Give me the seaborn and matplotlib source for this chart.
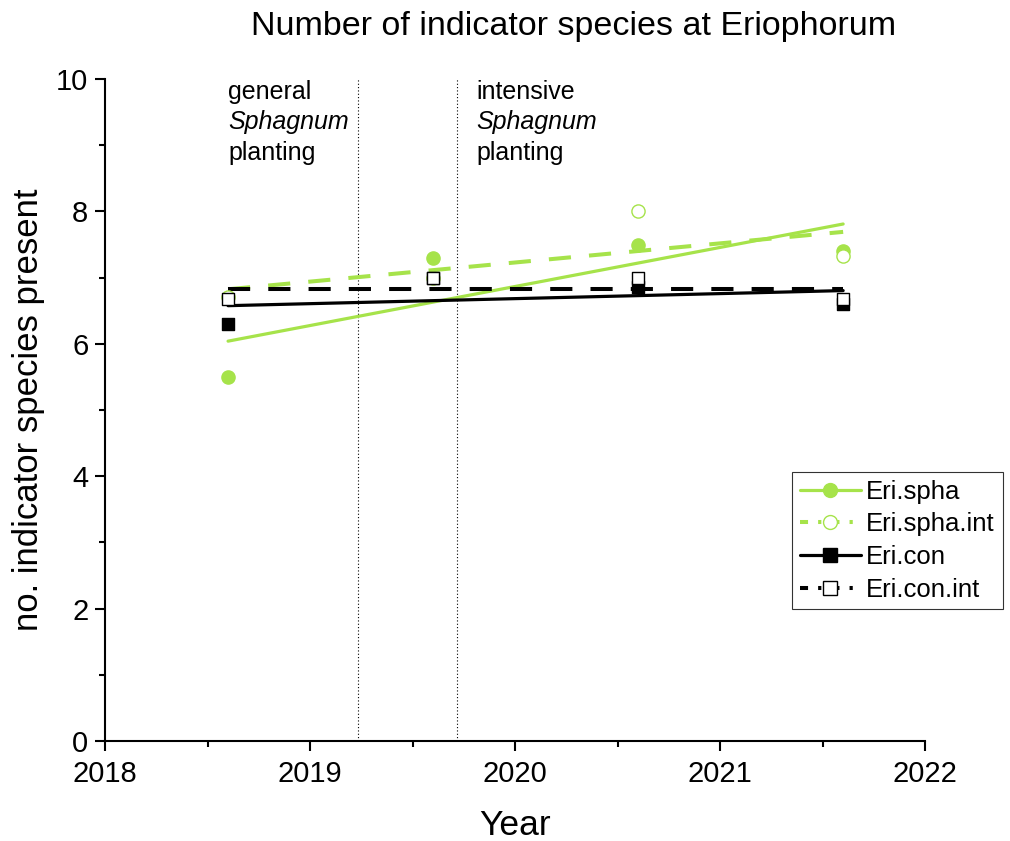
import numpy as np
import pandas as pd
import matplotlib
matplotlib.use('Agg')
import matplotlib.pyplot as plt
import seaborn as sns
from matplotlib.lines import Line2D

years = [2018.6, 2019.6, 2020.6, 2021.6]
eri_spha = [5.5, 7.3, 7.5, 7.4]
eri_spha_int = [6.7, 7.0, 8.0, 7.33]
eri_con = [6.3, 7.0, 6.86, 6.6]
eri_con_int = [6.67, 7.0, 7.0, 6.67]
phase_lines = [2019.234, 2019.717]

green = '#a6e34a'

sns.set_style('ticks')
plt.rcParams['font.family'] = ['Liberation Sans', 'DejaVu Sans']
plt.rcParams['text.color'] = 'black'
plt.rcParams['axes.labelcolor'] = 'black'
plt.rcParams['xtick.color'] = 'black'
plt.rcParams['ytick.color'] = 'black'

fig = plt.figure(figsize=(10.1, 8.41), dpi=100)
ax = fig.add_axes([0.104, 0.119, 0.812, 0.787])

series = [
    ('Eri.spha', eri_spha, green, '-', 'o', green),
    ('Eri.spha.int', eri_spha_int, green, '--', 'o', 'white'),
    ('Eri.con', eri_con, 'black', '-', 's', 'black'),
    ('Eri.con.int', eri_con_int, 'black', '--', 's', 'white'),
]

handles = []
for name, vals, col, ls, mk, fc in series:
    df = pd.DataFrame({'Year': years, 'val': vals})
    lw = 2.3 if ls == '-' else 2.9
    kws = {'color': col, 'lw': lw}
    if ls == '--':
        kws['dashes'] = (5.5, 4.5)
    sns.regplot(data=df, x='Year', y='val', ax=ax, scatter=False, ci=None,
                truncate=True, line_kws=kws)
    sns.scatterplot(data=df, x='Year', y='val', ax=ax, marker=mk, s=90 if mk == 'o' else 75,
                    color=fc, edgecolor=col, linewidth=1.0, zorder=3)
    h = Line2D([], [], color=col, lw=lw, marker=mk, markersize=10,
               markerfacecolor=fc, markeredgecolor=col)
    if ls == '--':
        h.set_dashes((2.0, 2.5, 0.8, 2.5))
    handles.append(h)

for xv in phase_lines:
    ax.axvline(xv, color='black', lw=0.8, ls=(0, (1, 2)), zorder=1)

ax.text(2018.6, 9.80, 'general', fontsize=18, va='center')
ax.text(2018.6, 9.35, 'Sphagnum', fontsize=18, va='center', style='italic')
ax.text(2018.6, 8.88, 'planting', fontsize=18, va='center')
ax.text(2019.81, 9.80, 'intensive', fontsize=18, va='center')
ax.text(2019.81, 9.35, 'Sphagnum', fontsize=18, va='center', style='italic')
ax.text(2019.81, 8.88, 'planting', fontsize=18, va='center')

ax.set_xlim(2018, 2022)
ax.set_ylim(0, 10)
ax.set_xticks([2018, 2019, 2020, 2021, 2022])
ax.set_xticks([2018.5, 2019.5, 2020.5, 2021.5], minor=True)
ax.set_yticks([0, 2, 4, 6, 8, 10])
ax.set_yticks([1, 3, 5, 7, 9], minor=True)
ax.tick_params(axis='both', which='major', labelsize=21, length=7, width=1.5, direction='out')
ax.tick_params(axis='x', which='major', pad=7)
ax.tick_params(axis='y', which='major', pad=5)
ax.tick_params(axis='both', which='minor', length=4, width=1.5, direction='out')
for sp in ['left', 'bottom']:
    ax.spines[sp].set_linewidth(1.5)
    ax.spines[sp].set_color('black')
sns.despine(ax=ax)

ax.set_xlabel('Year', fontsize=25.5, labelpad=15)
ax.set_ylabel('no. indicator species present', fontsize=25, labelpad=8)
ax.set_title('Number of indicator species at Eriophorum', fontsize=24.5, pad=32, x=0.571)

leg = ax.legend(handles, [s[0] for s in series], loc='upper left',
                bbox_to_anchor=(0.784, 0.439), bbox_transform=fig.transFigure,
                fontsize=18.5, frameon=True, fancybox=False, edgecolor='black',
                handlelength=2.4, borderpad=0.3, labelspacing=0.34, handletextpad=0.2,
                borderaxespad=0)
leg.get_frame().set_linewidth(0.8)

fig.savefig('out.png', dpi=100)
